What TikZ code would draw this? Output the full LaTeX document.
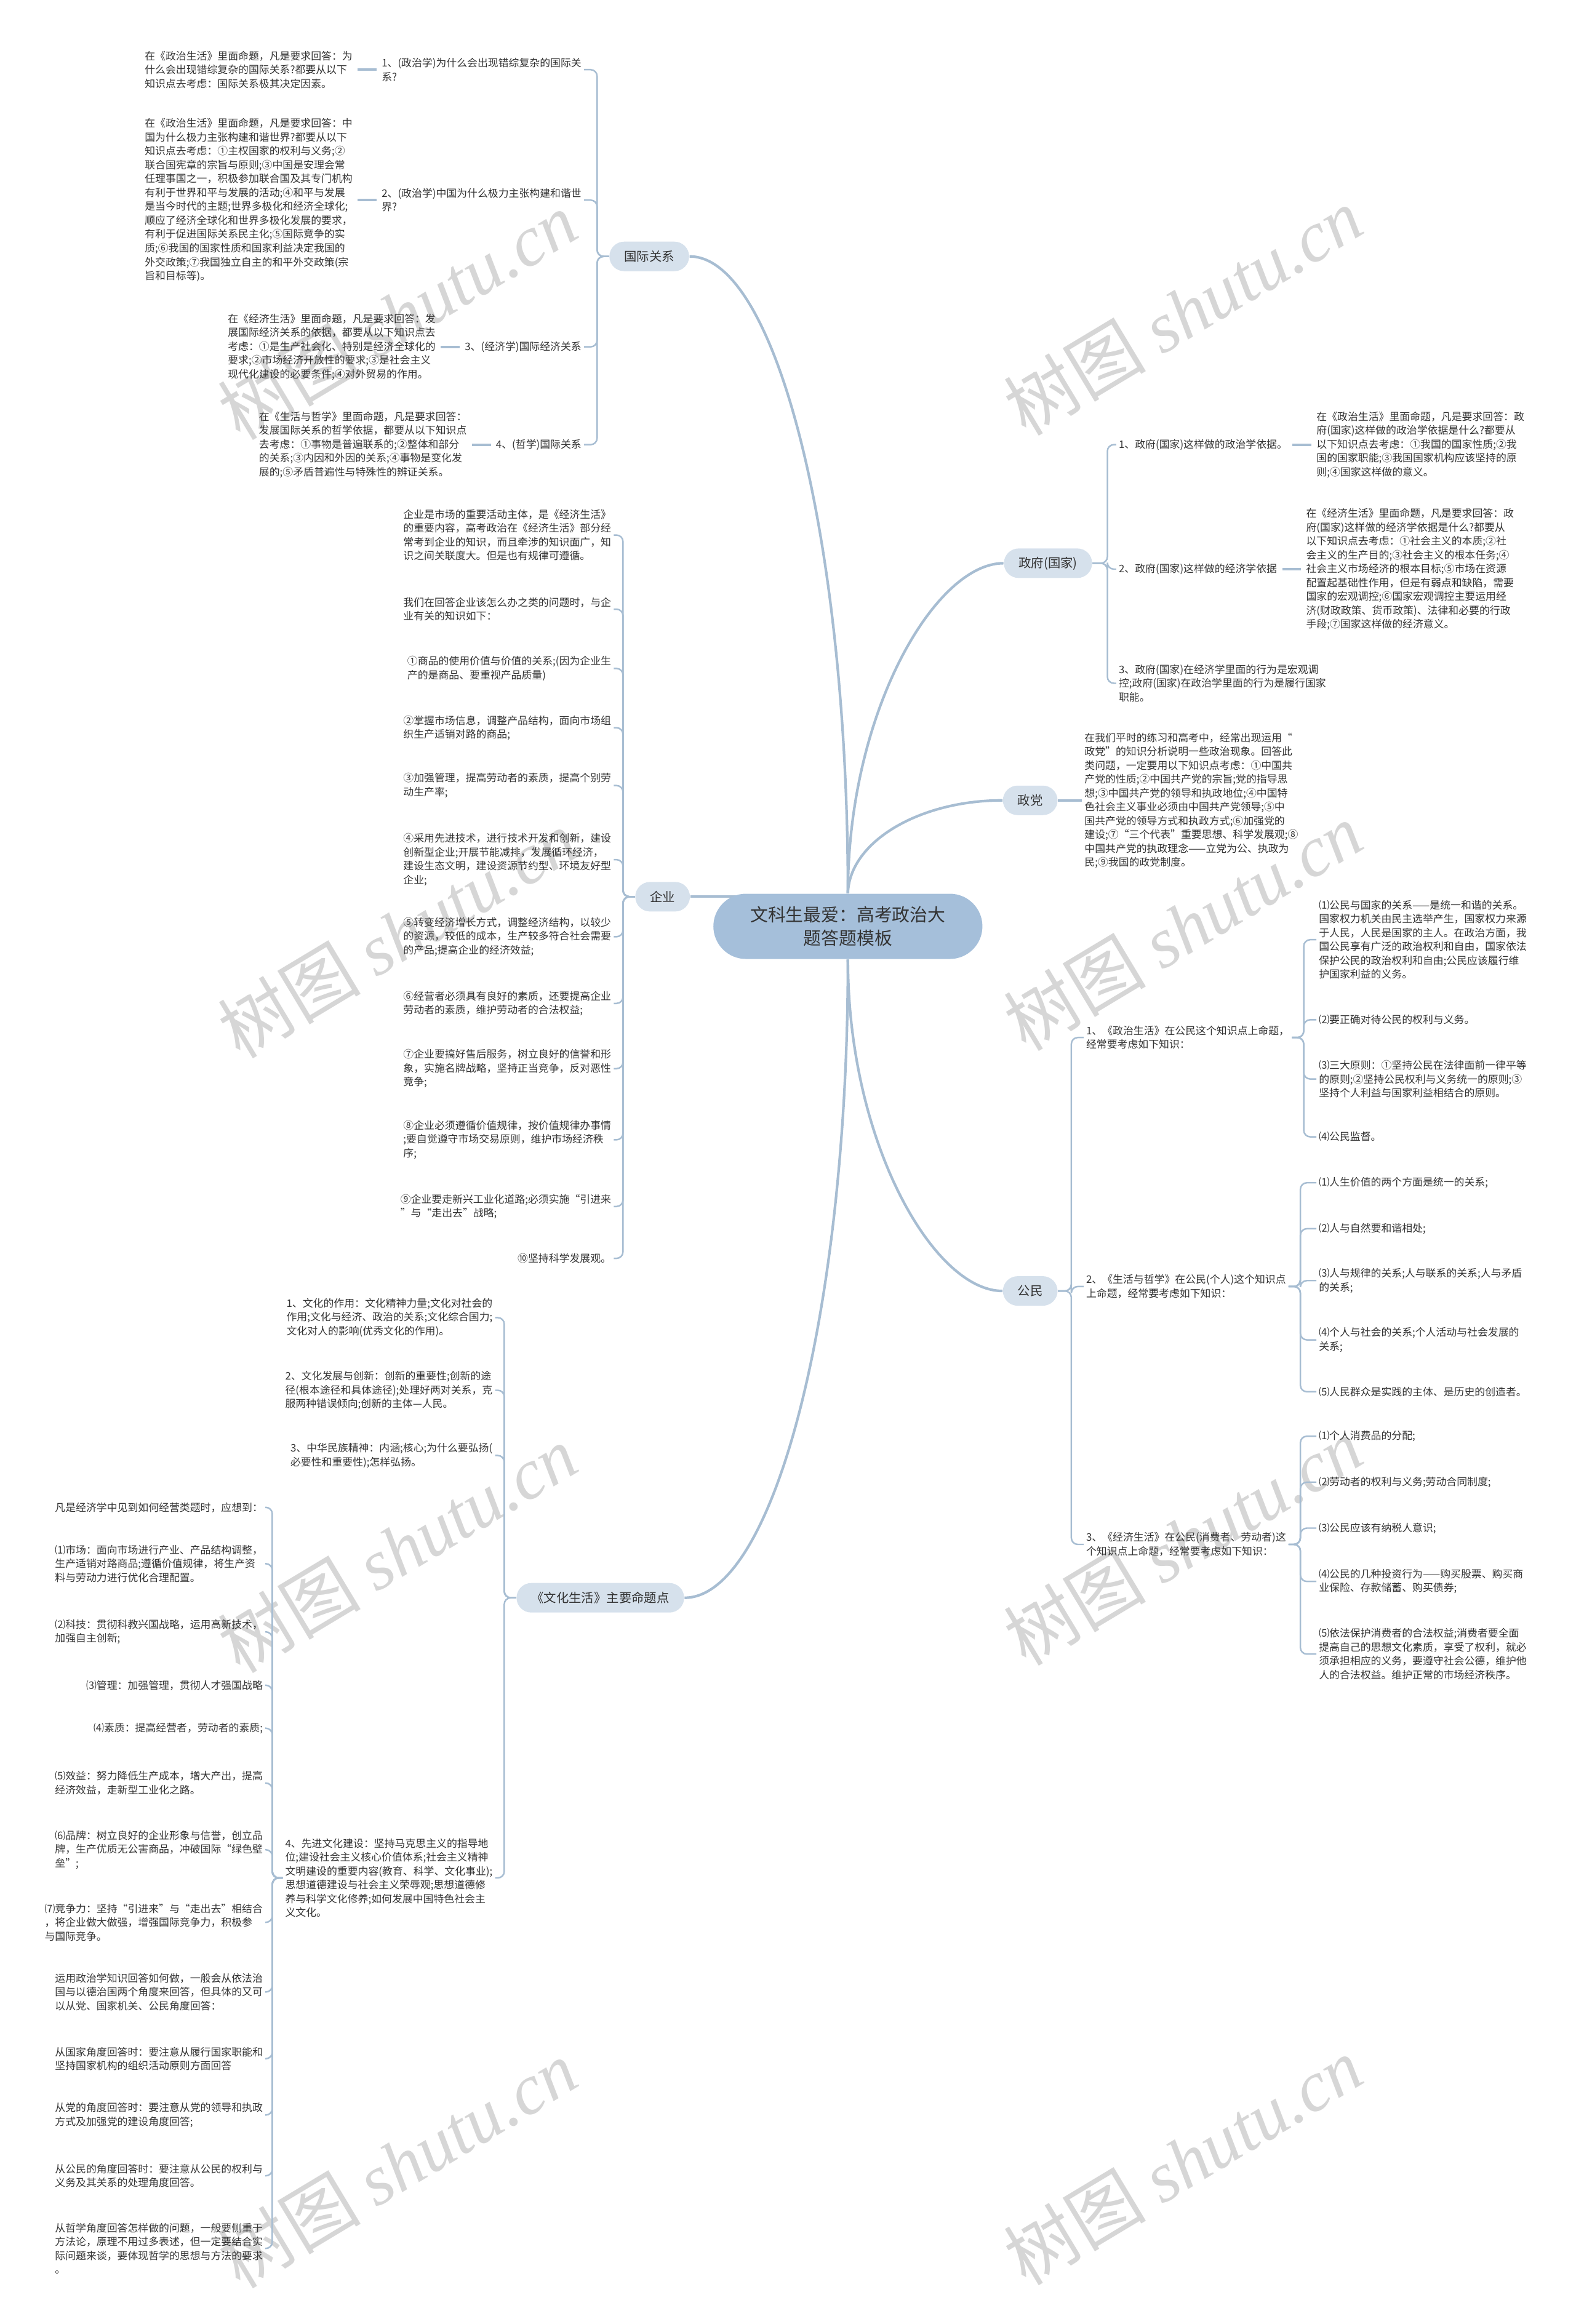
\documentclass[tikz,border=0pt]{standalone}
\usepackage{fontspec}
\setmainfont{Noto Sans CJK SC}
\newfontfamily\markfont{Liberation Serif}
\usetikzlibrary{positioning,backgrounds}
\definecolor{lnk}{HTML}{A7BDD2}
\definecolor{hubfill}{HTML}{A5BFDA}
\definecolor{topicfill}{HTML}{D6E1EC}
\definecolor{ink}{HTML}{333333}
\definecolor{markgray}{HTML}{D6D6D6}

\begin{document}
\begin{tikzpicture}[
  x=0.02408cm, y=-0.02408cm,
  node distance=3.9mm,
  txt/.style={font=\fontsize{4.8}{6.4}\selectfont, align=left, inner sep=1pt, text=ink},
  topic/.style={fill=topicfill, rounded corners=2.4mm, inner xsep=2.4mm, inner ysep=0pt, minimum height=4.8mm, font=\fontsize{5.8}{7}\selectfont, text=ink},
  hub/.style={fill=hubfill, rounded corners=5.3mm, inner xsep=6mm, minimum height=10.6mm, align=center, font=\fontsize{8.2}{11}\selectfont, text=ink},
  link/.style={draw=lnk, line width=0.7pt, rounded corners=3pt},
  trunk/.style={draw=lnk, line width=1.2pt},
  stub/.style={draw=lnk, line width=1.2pt, shorten <=1.2pt, shorten >=1.2pt},
  wmark/.style={text=markgray, rotate=31, font=\fontsize{33}{33}\selectfont}
]
\useasboundingbox (0,0) rectangle (1063,1568);

% root and main topics
\node[hub] (root) at (572,625) {文科生最爱：高考政治大\\题答题模板};
\node[topic] (intl) at (438,173) {国际关系};
\node[topic] (firm) at (447,605) {企业};
\node[topic] (cult) at (405,1078) {《文化生活》主要命题点};
\node[topic] (gov) at (707,380) {政府(国家)};
\node[topic] (party) at (695,540) {政党};
\node[topic] (citz) at (695,871) {公民};

\begin{scope}[on background layer]
% watermarks
\node[wmark] (wm1) at (268,213) {树图 {\markfont\itshape shutu.cn}};
\node[wmark] (wm2) at (798,210) {树图 {\markfont\itshape shutu.cn}};
\node[wmark] (wm3) at (268,630) {树图 {\markfont\itshape shutu.cn}};
\node[wmark] (wm4) at (798,625) {树图 {\markfont\itshape shutu.cn}};
\node[wmark] (wm5) at (268,1045) {树图 {\markfont\itshape shutu.cn}};
\node[wmark] (wm6) at (798,1040) {树图 {\markfont\itshape shutu.cn}};
\node[wmark] (wm7) at (268,1460) {树图 {\markfont\itshape shutu.cn}};
\node[wmark] (wm8) at (798,1458) {树图 {\markfont\itshape shutu.cn}};
\draw[trunk] (root.north) .. controls (572,366) and (524,173) .. (intl.east);
\draw[trunk] (firm.east) -- (root.center |- firm.east);
\draw[trunk] (root.south) .. controls (572,885) and (522,1078) .. (cult.east);
\draw[trunk] (root.north) .. controls (572,480) and (631,380) .. (gov.west);
\draw[trunk] (root.north) .. controls (573,568) and (620,540) .. (party.west);
\draw[trunk] (root.south) .. controls (572,771) and (630,871) .. (citz.west);
\end{scope}

% 国际关系
\node[txt, anchor=east] (ir1) at (394,47) {1、(政治学)为什么会出现错综复杂的国际关\\系?};
\node[txt, anchor=east] (ir2) at (394,135) {2、(政治学)中国为什么极力主张构建和谐世\\界?};
\node[txt, anchor=east] (ir3) at (394,234) {3、(经济学)国际经济关系};
\node[txt, anchor=east] (ir4) at (394,300) {4、(哲学)国际关系};
\node[txt, left=of ir1] (ir1t) {在《政治生活》里面命题，凡是要求回答：为\\什么会出现错综复杂的国际关系?都要从以下\\知识点去考虑：国际关系极其决定因素。};
\node[txt, left=of ir2] (ir2t) {在《政治生活》里面命题，凡是要求回答：中\\国为什么极力主张构建和谐世界?都要从以下\\知识点去考虑：①主权国家的权利与义务;②\\联合国宪章的宗旨与原则;③中国是安理会常\\任理事国之一，积极参加联合国及其专门机构\\有利于世界和平与发展的活动;④和平与发展\\是当今时代的主题;世界多极化和经济全球化;\\顺应了经济全球化和世界多极化发展的要求，\\有利于促进国际关系民主化;⑤国际竞争的实\\质;⑥我国的国家性质和国家利益决定我国的\\外交政策;⑦我国独立自主的和平外交政策(宗\\旨和目标等)。};
\node[txt, left=of ir3] (ir3t) {在《经济生活》里面命题，凡是要求回答：发\\展国际经济关系的依据，都要从以下知识点去\\考虑：①是生产社会化、特别是经济全球化的\\要求;②市场经济开放性的要求;③是社会主义\\现代化建设的必要条件;④对外贸易的作用。};
\node[txt, left=of ir4] (ir4t) {在《生活与哲学》里面命题，凡是要求回答：\\发展国际关系的哲学依据，都要从以下知识点\\去考虑：①事物是普遍联系的;②整体和部分\\的关系;③内因和外因的关系;④事物是变化发\\展的;⑤矛盾普遍性与特殊性的辨证关系。};
\draw[link] (intl.west) -- ++(-8,0) |- (ir1.east);
\draw[link] (intl.west) -- ++(-8,0) |- (ir2.east);
\draw[link] (intl.west) -- ++(-8,0) |- (ir3.east);
\draw[link] (intl.west) -- ++(-8,0) |- (ir4.east);
\draw[stub] (ir1) -- (ir1t);
\draw[stub] (ir2) -- (ir2t);
\draw[stub] (ir3) -- (ir3t);
\draw[stub] (ir4) -- (ir4t);

% 企业
\node[txt, anchor=east] (fm1) at (414,361) {企业是市场的重要活动主体，是《经济生活》\\的重要内容，高考政治在《经济生活》部分经\\常考到企业的知识，而且牵涉的知识面广，知\\识之间关联度大。但是也有规律可遵循。};
\node[txt, anchor=east] (fm2) at (414,411) {我们在回答企业该怎么办之类的问题时，与企\\业有关的知识如下：};
\node[txt, anchor=east] (fm3) at (414,451) {①商品的使用价值与价值的关系;(因为企业生\\产的是商品、要重视产品质量)};
\node[txt, anchor=east] (fm4) at (414,491) {②掌握市场信息，调整产品结构，面向市场组\\织生产适销对路的商品;};
\node[txt, anchor=east] (fm5) at (414,530) {③加强管理，提高劳动者的素质，提高个别劳\\动生产率;};
\node[txt, anchor=east] (fm6) at (414,580) {④采用先进技术，进行技术开发和创新，建设\\创新型企业;开展节能减排，发展循环经济，\\建设生态文明，建设资源节约型、环境友好型\\企业;};
\node[txt, anchor=east] (fm7) at (414,632) {⑤转变经济增长方式，调整经济结构，以较少\\的资源，较低的成本，生产较多符合社会需要\\的产品;提高企业的经济效益;};
\node[txt, anchor=east] (fm8) at (414,677) {⑥经营者必须具有良好的素质，还要提高企业\\劳动者的素质，维护劳动者的合法权益;};
\node[txt, anchor=east] (fm9) at (414,721) {⑦企业要搞好售后服务，树立良好的信誉和形\\象，实施名牌战略，坚持正当竞争，反对恶性\\竞争;};
\node[txt, anchor=east] (fm10) at (414,769) {⑧企业必须遵循价值规律，按价值规律办事情\\;要自觉遵守市场交易原则，维护市场经济秩\\序;};
\node[txt, anchor=east] (fm11) at (414,814) {⑨企业要走新兴工业化道路;必须实施“引进来\\”与“走出去”战略;};
\node[txt, anchor=east] (fm12) at (414,849) {⑩坚持科学发展观。};
\draw[link] (firm.west) -- ++(-8,0) |- (fm1.east);
\draw[link] (firm.west) -- ++(-8,0) |- (fm2.east);
\draw[link] (firm.west) -- ++(-8,0) |- (fm3.east);
\draw[link] (firm.west) -- ++(-8,0) |- (fm4.east);
\draw[link] (firm.west) -- ++(-8,0) |- (fm5.east);
\draw[link] (firm.west) -- ++(-8,0) |- (fm6.east);
\draw[link] (firm.west) -- ++(-8,0) |- (fm7.east);
\draw[link] (firm.west) -- ++(-8,0) |- (fm8.east);
\draw[link] (firm.west) -- ++(-8,0) |- (fm9.east);
\draw[link] (firm.west) -- ++(-8,0) |- (fm10.east);
\draw[link] (firm.west) -- ++(-8,0) |- (fm11.east);
\draw[link] (firm.west) -- ++(-8,0) |- (fm12.east);

% 《文化生活》
\node[txt, anchor=east] (cu1) at (334,889) {1、文化的作用：文化精神力量;文化对社会的\\作用;文化与经济、政治的关系;文化综合国力;\\文化对人的影响(优秀文化的作用)。};
\node[txt, anchor=east] (cu2) at (334,938) {2、文化发展与创新：创新的重要性;创新的途\\径(根本途径和具体途径);处理好两对关系，克\\服两种错误倾向;创新的主体—人民。};
\node[txt, anchor=east] (cu3) at (334,982) {3、中华民族精神：内涵;核心;为什么要弘扬(\\必要性和重要性);怎样弘扬。};
\node[txt, anchor=east] (cu4) at (334,1267) {4、先进文化建设：坚持马克思主义的指导地\\位;建设社会主义核心价值体系;社会主义精神\\文明建设的重要内容(教育、科学、文化事业);\\思想道德建设与社会主义荣辱观;思想道德修\\养与科学文化修养;如何发展中国特色社会主\\义文化。};
\draw[link] (cult.west) -- ++(-8,0) |- (cu1.east);
\draw[link] (cult.west) -- ++(-8,0) |- (cu2.east);
\draw[link] (cult.west) -- ++(-8,0) |- (cu3.east);
\draw[link] (cult.west) -- ++(-8,0) |- (cu4.east);

\node[txt, anchor=east] (ad1) at (179,1017) {凡是经济学中见到如何经营类题时，应想到：};
\node[txt, anchor=east] (ad2) at (179,1055) {⑴市场：面向市场进行产业、产品结构调整，\\生产适销对路商品;遵循价值规律，将生产资\\料与劳动力进行优化合理配置。};
\node[txt, anchor=east] (ad3) at (179,1101) {⑵科技：贯彻科教兴国战略，运用高新技术，\\加强自主创新;};
\node[txt, anchor=east] (ad4) at (179,1137) {⑶管理：加强管理，贯彻人才强国战略};
\node[txt, anchor=east] (ad5) at (179,1166) {⑷素质：提高经营者，劳动者的素质;};
\node[txt, anchor=east] (ad6) at (179,1203) {⑸效益：努力降低生产成本，增大产出，提高\\经济效益，走新型工业化之路。};
\node[txt, anchor=east] (ad7) at (179,1248) {⑹品牌：树立良好的企业形象与信誉，创立品\\牌，生产优质无公害商品，冲破国际“绿色壁\\垒”;};
\node[txt, anchor=east] (ad8) at (179,1297) {⑺竞争力：坚持“引进来”与“走出去”相结合\\，将企业做大做强，增强国际竞争力，积极参\\与国际竞争。};
\node[txt, anchor=east] (ad9) at (179,1344) {运用政治学知识回答如何做，一般会从依法治\\国与以德治国两个角度来回答，但具体的又可\\以从党、国家机关、公民角度回答：};
\node[txt, anchor=east] (ad10) at (179,1389) {从国家角度回答时：要注意从履行国家职能和\\坚持国家机构的组织活动原则方面回答};
\node[txt, anchor=east] (ad11) at (179,1427) {从党的角度回答时：要注意从党的领导和执政\\方式及加强党的建设角度回答;};
\node[txt, anchor=east] (ad12) at (179,1468) {从公民的角度回答时：要注意从公民的权利与\\义务及其关系的处理角度回答。};
\node[txt, anchor=east] (ad13) at (179,1517) {从哲学角度回答怎样做的问题，一般要侧重于\\方法论，原理不用过多表述，但一定要结合实\\际问题来谈，要体现哲学的思想与方法的要求\\。};
\draw[link] (cu4.west) -- ++(-7,0) |- (ad1.east);
\draw[link] (cu4.west) -- ++(-7,0) |- (ad2.east);
\draw[link] (cu4.west) -- ++(-7,0) |- (ad3.east);
\draw[link] (cu4.west) -- ++(-7,0) |- (ad4.east);
\draw[link] (cu4.west) -- ++(-7,0) |- (ad5.east);
\draw[link] (cu4.west) -- ++(-7,0) |- (ad6.east);
\draw[link] (cu4.west) -- ++(-7,0) |- (ad7.east);
\draw[link] (cu4.west) -- ++(-7,0) |- (ad8.east);
\draw[link] (cu4.west) -- ++(-7,0) |- (ad9.east);
\draw[link] (cu4.west) -- ++(-7,0) |- (ad10.east);
\draw[link] (cu4.west) -- ++(-7,0) |- (ad11.east);
\draw[link] (cu4.west) -- ++(-7,0) |- (ad12.east);
\draw[link] (cu4.west) -- ++(-7,0) |- (ad13.east);

% 政府(国家)
\node[txt, anchor=west] (gv1) at (753,300) {1、政府(国家)这样做的政治学依据。};
\node[txt, anchor=west] (gv2) at (753,384) {2、政府(国家)这样做的经济学依据};
\node[txt, anchor=west] (gv3) at (753,461) {3、政府(国家)在经济学里面的行为是宏观调\\控;政府(国家)在政治学里面的行为是履行国家\\职能。};
\node[txt, right=of gv1] (gv1t) {在《政治生活》里面命题，凡是要求回答：政\\府(国家)这样做的政治学依据是什么?都要从\\以下知识点去考虑：①我国的国家性质;②我\\国的国家职能;③我国国家机构应该坚持的原\\则;④国家这样做的意义。};
\node[txt, right=of gv2] (gv2t) {在《经济生活》里面命题，凡是要求回答：政\\府(国家)这样做的经济学依据是什么?都要从\\以下知识点去考虑：①社会主义的本质;②社\\会主义的生产目的;③社会主义的根本任务;④\\社会主义市场经济的根本目标;⑤市场在资源\\配置起基础性作用，但是有弱点和缺陷，需要\\国家的宏观调控;⑥国家宏观调控主要运用经\\济(财政政策、货币政策)、法律和必要的行政\\手段;⑦国家这样做的经济意义。};
\draw[link] (gov.east) -- ++(10,0) |- (gv1.west);
\draw[link] (gov.east) -- ++(10,0) |- (gv2.west);
\draw[link] (gov.east) -- ++(10,0) |- (gv3.west);
\draw[stub] (gv1) -- (gv1t);
\draw[stub] (gv2) -- (gv2t);

% 政党
\node[txt, right=of party] (pt1) {在我们平时的练习和高考中，经常出现运用“\\政党”的知识分析说明一些政治现象。回答此\\类问题，一定要用以下知识点考虑：①中国共\\产党的性质;②中国共产党的宗旨;党的指导思\\想;③中国共产党的领导和执政地位;④中国特\\色社会主义事业必须由中国共产党领导;⑤中\\国共产党的领导方式和执政方式;⑥加强党的\\建设;⑦“三个代表”重要思想、科学发展观;⑧\\中国共产党的执政理念——立党为公、执政为\\民;⑨我国的政党制度。};
\draw[trunk] (party) -- (pt1);

% 公民
\node[txt, anchor=west] (cz1) at (731,700) {1、《政治生活》在公民这个知识点上命题，\\经常要考虑如下知识：};
\node[txt, anchor=west] (cz2) at (731,868) {2、《生活与哲学》在公民(个人)这个知识点\\上命题，经常要考虑如下知识：};
\node[txt, anchor=west] (cz3) at (731,1042) {3、《经济生活》在公民(消费者、劳动者)这\\个知识点上命题，经常要考虑如下知识：};
\draw[link] (citz.east) -- ++(9,0) |- (cz1.west);
\draw[link] (citz.east) -- ++(9,0) |- (cz2.west);
\draw[link] (citz.east) -- ++(9,0) |- (cz3.west);

\node[txt, anchor=west] (cz1a) at (888,634) {⑴公民与国家的关系——是统一和谐的关系。\\国家权力机关由民主选举产生，国家权力来源\\于人民，人民是国家的主人。在政治方面，我\\国公民享有广泛的政治权利和自由，国家依法\\保护公民的政治权利和自由;公民应该履行维\\护国家利益的义务。};
\node[txt, anchor=west] (cz1b) at (888,688) {⑵要正确对待公民的权利与义务。};
\node[txt, anchor=west] (cz1c) at (888,728) {⑶三大原则：①坚持公民在法律面前一律平等\\的原则;②坚持公民权利与义务统一的原则;③\\坚持个人利益与国家利益相结合的原则。};
\node[txt, anchor=west] (cz1d) at (888,767) {⑷公民监督。};
\draw[link] (cz1.east) -- ++(8,0) |- (cz1a.west);
\draw[link] (cz1.east) -- ++(8,0) |- (cz1b.west);
\draw[link] (cz1.east) -- ++(8,0) |- (cz1c.west);
\draw[link] (cz1.east) -- ++(8,0) |- (cz1d.west);

\node[txt, anchor=west] (cz2a) at (888,798) {⑴人生价值的两个方面是统一的关系;};
\node[txt, anchor=west] (cz2b) at (888,829) {⑵人与自然要和谐相处;};
\node[txt, anchor=west] (cz2c) at (888,864) {⑶人与规律的关系;人与联系的关系;人与矛盾\\的关系;};
\node[txt, anchor=west] (cz2d) at (888,904) {⑷个人与社会的关系;个人活动与社会发展的\\关系;};
\node[txt, anchor=west] (cz2e) at (888,939) {⑸人民群众是实践的主体、是历史的创造者。};
\draw[link] (cz2.east) -- ++(8,0) |- (cz2a.west);
\draw[link] (cz2.east) -- ++(8,0) |- (cz2b.west);
\draw[link] (cz2.east) -- ++(8,0) |- (cz2c.west);
\draw[link] (cz2.east) -- ++(8,0) |- (cz2d.west);
\draw[link] (cz2.east) -- ++(8,0) |- (cz2e.west);

\node[txt, anchor=west] (cz3a) at (888,969) {⑴个人消费品的分配;};
\node[txt, anchor=west] (cz3b) at (888,1000) {⑵劳动者的权利与义务;劳动合同制度;};
\node[txt, anchor=west] (cz3c) at (888,1031) {⑶公民应该有纳税人意识;};
\node[txt, anchor=west] (cz3d) at (888,1067) {⑷公民的几种投资行为——购买股票、购买商\\业保险、存款储蓄、购买债券;};
\node[txt, anchor=west] (cz3e) at (888,1116) {⑸依法保护消费者的合法权益;消费者要全面\\提高自己的思想文化素质，享受了权利，就必\\须承担相应的义务，要遵守社会公德，维护他\\人的合法权益。维护正常的市场经济秩序。};
\draw[link] (cz3.east) -- ++(8,0) |- (cz3a.west);
\draw[link] (cz3.east) -- ++(8,0) |- (cz3b.west);
\draw[link] (cz3.east) -- ++(8,0) |- (cz3c.west);
\draw[link] (cz3.east) -- ++(8,0) |- (cz3d.west);
\draw[link] (cz3.east) -- ++(8,0) |- (cz3e.west);
\end{tikzpicture}
\end{document}
